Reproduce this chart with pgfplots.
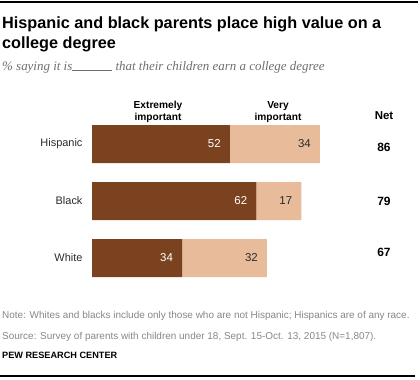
\documentclass[border=0pt]{standalone}
\usepackage{fontspec}
\setmainfont{Liberation Sans}
\newfontfamily\subfont{Liberation Serif}
\usepackage{pgfplots}
\pgfplotsset{compat=1.18}
\definecolor{darkb}{HTML}{7B4220}
\definecolor{lightb}{HTML}{E8BB9A}
\definecolor{notegray}{HTML}{878787}
\definecolor{subgray}{HTML}{6E6E6E}
\definecolor{txt}{HTML}{2B2B2B}
\begin{document}
\begin{tikzpicture}[x=1bp,y=1bp]
\path[use as bounding box] (0,0) rectangle (420,-380);
\draw[line width=1.3bp] (0,-2) -- (418,-2);
\draw[line width=1.3bp] (0,-376) -- (415,-376);
% title
\node[anchor=base west, inner sep=0, font=\bfseries\fontsize{16.3}{19}\selectfont] at (2,-28) {Hispanic and black parents place high value on a};
\node[anchor=base west, inner sep=0, font=\bfseries\fontsize{16.3}{19}\selectfont] at (2,-48) {college degree};
\node[anchor=base west, inner sep=0, font=\subfont\itshape\fontsize{13}{15}\selectfont, text=subgray] at (2,-70) {\% saying it is\rule[-0.5bp]{40bp}{0.5bp} that their children earn a college degree};
% legend
\node[anchor=base, inner sep=0, font=\bfseries\fontsize{10.2}{12}\selectfont, text=black] at (158,-108.5) {Extremely};
\node[anchor=base, inner sep=0, font=\bfseries\fontsize{10.2}{12}\selectfont, text=black] at (158,-120) {important};
\node[anchor=base, inner sep=0, font=\bfseries\fontsize{10.2}{12}\selectfont, text=black] at (278,-108.5) {Very};
\node[anchor=base, inner sep=0, font=\bfseries\fontsize{10.2}{12}\selectfont, text=black] at (278,-120) {important};
\node[anchor=base, inner sep=0, font=\bfseries\fontsize{11.5}{13}\selectfont] at (384,-119.5) {Net};
\begin{axis}[
  at={(92bp,-286.5bp)}, anchor=south west,
  scale only axis, width=228bp, height=171bp,
  xmin=0, xmax=86, ymin=-0.5, ymax=2.5,
  xbar stacked, bar width=38bp,
  axis x line=none, axis y line=left,
  axis line style={draw=none},
  ytick={0,1,2}, yticklabels={White,Black,Hispanic},
  major tick length=0, ytick style={draw=none},
  yticklabel style={font=\fontsize{11}{13}\selectfont, text=txt, xshift=-6bp},
  clip=false,
  point meta=explicit symbolic,
  nodes near coords,
  every node near coord/.append style={anchor=east, inner sep=0pt,
    xshift={\pgfplotspointmeta*1.3256bp-9bp},
    font=\fontsize{11.5}{13}\selectfont},
]
\addplot[fill=darkb, draw=none, every node near coord/.append style={text=white}]
  coordinates {(34,0)[34] (62,1)[62] (52,2)[52]};
\addplot[fill=lightb, draw=none, every node near coord/.append style={text=txt}]
  coordinates {(32,0)[32] (17,1)[17] (34,2)[34]};
\end{axis}
% net values
\node[anchor=center, inner sep=0, font=\bfseries\fontsize{12}{14}\selectfont] at (384,-147) {86};
\node[anchor=center, inner sep=0, font=\bfseries\fontsize{12}{14}\selectfont] at (384,-201) {79};
\node[anchor=center, inner sep=0, font=\bfseries\fontsize{12}{14}\selectfont] at (384,-252) {67};
% footer
\node[anchor=base west, inner sep=0, font=\fontsize{10}{12}\selectfont, text=notegray] at (2,-318) {Note: Whites and blacks include only those who are not Hispanic; Hispanics are of any race.};
\node[anchor=base west, inner sep=0, font=\fontsize{10}{12}\selectfont, text=notegray] at (2,-339) {Source: Survey of parents with children under 18, Sept. 15-Oct. 13, 2015 (N=1,807).};
\node[anchor=base west, inner sep=0, font=\bfseries\fontsize{9.2}{11}\selectfont] at (2,-358) {PEW RESEARCH CENTER};
\end{tikzpicture}
\end{document}
